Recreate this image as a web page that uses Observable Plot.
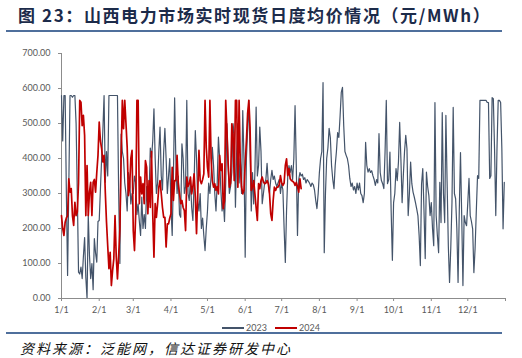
<!DOCTYPE html>
<html><head><meta charset="utf-8">
<script src="https://cdn.jsdelivr.net/npm/d3@7"></script>
<script src="https://cdn.jsdelivr.net/npm/@observablehq/plot@0.6"></script>
<style>
body{margin:0;background:#fff;}
#wrap{position:relative;width:522px;height:358px;overflow:hidden;font-family:"Noto Sans CJK SC",sans-serif;}
#title{position:absolute;left:18px;top:3px;font-size:17px;font-weight:bold;color:#1c2b4a;white-space:nowrap;letter-spacing:1.6px;line-height:24px;}
.rule{position:absolute;left:6px;width:496px;height:2px;background:#4f6f9c;}
#chart{position:absolute;left:0;top:38px;}
#legend{position:absolute;top:321px;left:0;width:522px;height:14px;font-family:Lato,sans-serif;font-size:9px;color:#595959;}
.lg{position:absolute;top:0;line-height:14px;}
.sw{position:absolute;top:6px;height:2px;width:22px;}
#caption{position:absolute;left:20px;top:339px;font-size:14px;font-style:italic;letter-spacing:2px;color:#111;white-space:nowrap;line-height:18px;}
</style></head>
<body>
<div id="wrap">
  <div id="title">图 23：山西电力市场实时现货日度均价情况（元/MWh）</div>
  <div class="rule" style="top:30px"></div>
  <div id="chart"></div>
  <div id="legend">
    <div class="sw" style="left:222px;background:#44546a"></div><div class="lg" style="left:246px">2023</div>
    <div class="sw" style="left:275px;background:#c00000"></div><div class="lg" style="left:299px">2024</div>
  </div>
  <div class="rule" style="top:332px"></div>
  <div id="caption">资料来源：泛能网，信达证券研发中心</div>
</div>
<script>
const monthStarts = [0,31,59,90,120,151,181,212,243,273,304,334];
const monthLabels = ["1/1","2/1","3/1","4/1","5/1","6/1","7/1","8/1","9/1","10/1","11/1","12/1"];
const yTicks = [0,100,200,300,400,500,600,700];
const seriesNames = ["2023","2024"];

// 2023 daily average price (元/MWh)
const jan23 = [580,450,580,580,300,66,320,580,580,575,580,580,500,300,75,70,90,57,120,174,60,0,240,123,57,100,25,171,130,104,220];
const feb23 = [223,313,400,480,580,332,420,350,580,580,580,580,580,580,580,580,300,100,470,420,400,330,300,250,360,340,270,300];
const mar23 = [300,350,330,240,270,220,180,290,200,240,200,320,260,300,430,400,450,542,400,300,330,420,490,350,310,420,486,400,300,350,400];
const apr23 = [260,180,350,573,400,300,350,240,232,442,400,300,320,566,300,280,340,260,223,330,480,400,280,250,300,200,230,180,137,200];
const may23 = [250,330,300,350,432,380,300,250,330,461,400,310,250,280,220,330,500,380,300,320,360,500,470,261,420,500,330,400,300,537,400];
const jun23 = [118,400,480,566,420,250,360,270,360,547,350,380,490,420,271,300,330,340,386,330,300,340,366,340,350,330,320,330,340,300];
const jul23 = [330,310,200,103,250,350,380,360,380,340,400,551,380,180,340,360,350,355,340,345,330,340,335,329,320,330,325,310,280,257,300];
const aug23 = [360,400,420,617,131,300,400,430,486,460,380,340,314,380,420,474,460,520,589,603,494,420,409,400,380,343,320,330,310,320,300];
const sep23 = [330,310,330,300,294,274,300,446,380,361,371,360,365,351,340,323,340,330,471,360,337,328,314,420,566,328,340,418,250,109];
const oct23 = [274,300,371,337,390,503,400,274,351,420,466,428,237,300,390,328,304,290,274,256,237,180,94,328,371,250,114,361,320,294,237];
const nov23 = [274,200,151,560,237,180,131,332,217,531,300,217,523,332,150,46,143,274,546,300,285,200,46,250,417,237,37,237,217,208];
const dec23 = [274,343,237,220,199,74,143,250,351,343,566,566,566,566,566,566,560,560,343,351,574,571,428,237,428,566,566,560,428,199,332];

// 2024 daily average price (元/MWh)
const jan24 = [237,200,180,218,230,237,342,304,314,237,209,275,237,247,330,566,561,494,523,466,237,380,237,304,332,237,332,340,304,360,409];
const feb24 = [504,450,428,390,409,304,218,150,85,132,37,80,113,237,120,56,123,199,400,566,485,566,500,432,294,318,400,423];
const mar24 = [194,137,242,566,566,271,347,299,328,271,394,375,242,337,260,420,242,118,271,232,271,318,337,300,260,232,232,147,213,213,230];
const apr24 = [242,375,280,337,337,409,328,300,271,280,260,251,194,347,320,328,347,299,320,356,290,185,300,423,337,328,340,356,566,432];
const may24 = [375,347,566,400,337,318,328,309,320,299,409,366,385,257,280,566,480,385,318,330,499,470,337,566,566,318,566,385,320,299,309];
const jun24 = [385,450,528,566,490,309,318,337,299,260,223,328,314,337,347,333,328,330,337,328,300,242,223,280,318,309,318,318,325,351];
const jul24 = [330,323,330,380,399,351,371,342,337,335,332,323,332,320,304,342,314];

const v23 = [].concat(jan23,feb23,mar23,apr23,may23,jun23,jul23,aug23,sep23,oct23,nov23,dec23);
const v24 = [].concat(jan24,feb24,mar24,apr24,may24,jun24,jul24);
const rows23 = v23.map((v,i)=>({day:i,v,s:seriesNames[0]}));
const rows24 = v24.map((v,i)=>({day:i,v,s:seriesNames[1]}));

const xTicks = monthStarts.concat([365]);
const chart = Plot.plot({
  width:522, height:282,
  marginLeft:61, marginRight:17, marginTop:15, marginBottom:22,
  style:{fontFamily:"Lato, sans-serif", fontSize:"9px", background:"transparent"},
  x:{domain:[0,365]},
  y:{domain:[0,700]},
  marks:[
    Plot.axisY({ticks:yTicks, tickFormat:d=>d.toFixed(2), tickSize:3, tickPadding:8, stroke:"#8c8c8c", fill:"#595959", label:null}),
    Plot.axisX({ticks:xTicks, tickFormat:d=>{const k=monthStarts.indexOf(d);return k>=0?monthLabels[k]:"";}, tickSize:3, tickPadding:5, stroke:"#8c8c8c", fill:"#595959", label:null}),
    Plot.ruleX([0],{stroke:"#8c8c8c"}),
    Plot.line(rows23,{x:"day",y:"v",stroke:"#44546a",strokeWidth:1.2}),
    Plot.line(rows24,{x:"day",y:"v",stroke:"#c00000",strokeWidth:1.7}),
    Plot.ruleY([0],{stroke:"#8c8c8c"})
  ]
});
document.getElementById("chart").appendChild(chart);
</script>
</body></html>
